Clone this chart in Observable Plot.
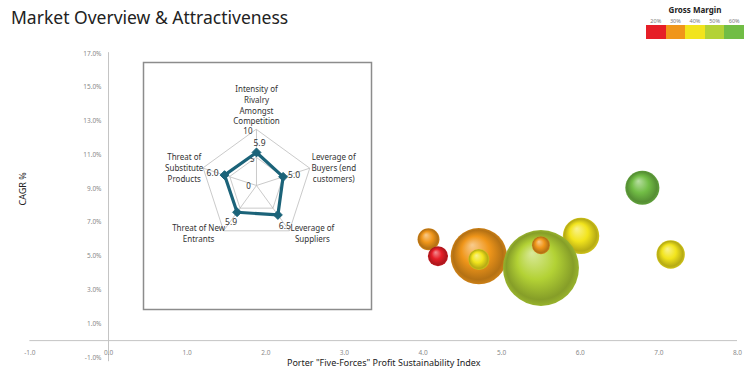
<!DOCTYPE html>
<html>
<head>
<meta charset="utf-8">
<script src="https://cdn.jsdelivr.net/npm/d3@7"></script>
<script src="https://cdn.jsdelivr.net/npm/@observablehq/plot@0.6"></script>
<style>
  body { margin: 0; background: #fff; }
  #wrap { position: relative; width: 750px; height: 381px; overflow: hidden; font-family: "Noto Sans", "Open Sans", sans-serif; }
  #title { position: absolute; left: 11px; top: 5px; font-size: 17.5px; color: #222; white-space: nowrap; }
  #legend { position: absolute; left: 646px; top: 5px; width: 98px; }
  #legend .lt { text-align: center; font-size: 8px; font-weight: bold; color: #222; line-height: 10px; }
  #legend .row { display: flex; }
  #legend .row div { flex: 1; text-align: center; }
  #legend .lab div { font-size: 5.5px; color: #777; height: 10px; line-height: 12px; }
  #legend .sw div { height: 14px; }
  #main { position: absolute; left: 0; top: 0; }
  #inset { position: absolute; left: 143px; top: 62px; }
</style>
</head>
<body>
<svg width="0" height="0" style="position:absolute">
  <defs id="grads"></defs>
</svg>
<div id="wrap">
  <div id="main"></div>
  <div id="inset"></div>
  <div id="title">Market Overview &amp; Attractiveness</div>
  <div id="legend"></div>
</div>
<script>
// ---------- data ----------
const titleText = "Market Overview & Attractiveness";
const xLabel = "Porter \"Five-Forces\" Profit Sustainability Index";
const yLabel = "CAGR %";
const xTicks = [-1, 0, 1, 2, 3, 4, 5, 6, 7, 8];
const yTicks = [-1, 1, 3, 5, 7, 9, 11, 13, 15, 17];

const marginLevels = [20, 30, 40, 50, 60];
const marginLabels = ["20%", "30%", "40%", "50%", "60%"];
const marginColors = ["#e61e27", "#f0961a", "#f2e41c", "#b3d235", "#71bd45"];

// bubbles, in drawing order
const bubbleX      = [4.07, 4.19, 4.71, 4.71, 6.01, 5.50, 5.50, 6.79, 7.15];
const bubbleY      = [6.0, 5.0, 5.0, 4.8, 6.2, 4.3, 5.65, 9.05, 5.1];
const bubbleSize   = [120, 100, 790, 110, 330, 1440, 80, 290, 200];
const bubbleMargin = [30, 20, 30, 40, 40, 50, 30, 60, 40];

// five forces radar
const forces = [
  "Intensity of\nRivalry\nAmongst\nCompetition",
  "Leverage of\nBuyers (end\ncustomers)",
  "Leverage of\nSuppliers",
  "Threat of New\nEntrants",
  "Threat of\nSubstitute\nProducts"
];
const forceValues = [5.9, 5.0, 6.5, 5.9, 6.0];
const radarRings = [5, 10];

// ---------- gradients ----------
const defs = d3.select("#grads");
marginLevels.forEach((m, i) => {
  const base = d3.color(marginColors[i]);
  const light = d3.interpolateRgb(base, "#ffffff")(0.5);
  const dark = d3.interpolateRgb(base, "#000000")(0.25);
  const edge = d3.interpolateRgb(base, "#000000")(0.15);
  const g = defs.append("radialGradient").attr("id", "g" + m)
    .attr("cx", "50%").attr("cy", "50%").attr("r", "50%")
    .attr("fx", "38%").attr("fy", "30%");
  g.append("stop").attr("offset", "0%").attr("stop-color", light);
  g.append("stop").attr("offset", "50%").attr("stop-color", base.formatHex());
  g.append("stop").attr("offset", "88%").attr("stop-color", dark);
  g.append("stop").attr("offset", "100%").attr("stop-color", edge);
});

// ---------- legend ----------
const legend = d3.select("#legend");
legend.append("div").attr("class", "lt").text("Gross Margin");
legend.append("div").attr("class", "row lab").selectAll("div").data(marginLabels).join("div").text(d => d);
legend.append("div").attr("class", "row sw").selectAll("div").data(marginColors).join("div").style("background", d => d);

// ---------- main chart ----------
const bubbles = bubbleX.map((x, i) => ({x, y: bubbleY[i], size: bubbleSize[i], margin: bubbleMargin[i]}));
const font = "Noto Sans, Open Sans, sans-serif";

const main = Plot.plot({
  width: 750, height: 381,
  marginLeft: 29.4, marginRight: 13, marginTop: 53, marginBottom: 24,
  style: {fontFamily: font, background: "transparent"},
  x: {domain: [-1, 8], axis: null},
  y: {domain: [-1, 17], axis: null},
  r: {domain: [0, 1440], range: [0, 38]},
  color: {type: "ordinal", domain: marginLevels, range: marginLevels.map(m => `url(#g${m})`)},
  marks: [
    Plot.ruleY([0], {x1: -1, x2: 8, stroke: "#c4c4c4", strokeWidth: 1}),
    Plot.ruleX([0], {y1: -1.25, y2: 17.05, stroke: "#c4c4c4", strokeWidth: 1}),
    Plot.text(xTicks, {x: d => d, y: 0, dy: 12, text: d => d.toFixed(1), fill: "#8a8a8a", fontSize: 6.5}),
    Plot.text(yTicks, {x: 0, y: d => d, dx: -7, textAnchor: "end", text: d => d.toFixed(1) + "%", fill: "#8a8a8a", fontSize: 6.5}),
    Plot.text([xLabel], {frameAnchor: "bottom", dy: 8, fill: "#222", fontSize: 9}),
    Plot.text([yLabel], {frameAnchor: "left", dx: -7, rotate: -90, fill: "#222", fontSize: 9}),
    Plot.dot(bubbles, {x: "x", y: "y", r: "size", fill: "margin", sort: null})
  ]
});
document.getElementById("main").appendChild(main);

// ---------- radar inset ----------
const ang = i => Math.PI / 2 - i * 2 * Math.PI / 5;
const ringPts = radarRings.map(r => forces.map((f, i) => ({ring: r, x: r * Math.cos(ang(i)), y: r * Math.sin(ang(i))}))).flat();
const spokes = forces.map((f, i) => ({x: 10 * Math.cos(ang(i)), y: 10 * Math.sin(ang(i))}));
const pts = forceValues.map((v, i) => ({v, x: v * Math.cos(ang(i)), y: v * Math.sin(ang(i))}));
const axisLab = forces.map((f, i) => ({f, x: 10 * Math.cos(ang(i)), y: 10 * Math.sin(ang(i))}));

// label offsets (style)
const labFont = 8;
const labLH = 10.8;
const labDx = [0, 24, 23, -25, -19];
const labDy = [-3, 0, 3, 3, 0];
const labAnchor = ["bottom", "middle", "middle", "middle", "middle"];
const valDx = [3, 5, 7, -6, -6];
const valDy = [-9, -2, 11, 10, -2];
const valAnchor = ["middle", "start", "middle", "middle", "end"];

const teal = "#1b6379";
const inset = Plot.plot({
  width: 228, height: 247,
  margin: 0,
  style: {fontFamily: font, background: "#fff", overflow: "visible"},
  x: {domain: [-20.18, 20.54], axis: null},
  y: {domain: [-22.14, 21.96], axis: null},
  marks: [
    Plot.frame({stroke: "#8c8c8c", strokeWidth: 1.5}),
    Plot.line(ringPts, {x: "x", y: "y", z: "ring", curve: "linear-closed", stroke: "#bdbdbd", strokeWidth: 0.8}),
    Plot.link(spokes, {x1: 0, y1: 0, x2: "x", y2: "y", stroke: "#bdbdbd", strokeWidth: 0.8}),
    Plot.text(["0"], {x: 0, y: 0, dx: -8, dy: 1, fill: "#333", fontSize: 8}),
    Plot.text(["10"], {x: 0, y: 10, dx: -4, dy: 2, textAnchor: "end", fill: "#333", fontSize: 8}),
    Plot.text(["5"], {x: 0, y: 5, dx: -2, dy: 2, textAnchor: "end", fill: "#333", fontSize: 8}),
    Plot.line(pts, {x: "x", y: "y", curve: "linear-closed", stroke: teal, strokeWidth: 3.2}),
    Plot.dot(pts, {x: "x", y: "y", symbol: "diamond2", r: 4, fill: teal, stroke: teal, strokeWidth: 1}),
    Plot.text(pts, {x: "x", y: "y", text: d => d.v.toFixed(1), fill: "#333", fontSize: 8.5,
      render(index, scales, values, dims, ctx, next) {
        const g = next(index, scales, values, dims, ctx);
        d3.select(g).selectAll("text").each(function(_, j) {
          const i = index[j];
          d3.select(this).attr("dx", valDx[i]).attr("dy", null)
            .attr("transform", (d3.select(this).attr("transform") || "") + ` translate(0,${valDy[i]})`)
            .attr("text-anchor", valAnchor[i]);
        });
        return g;
      }}),
    Plot.text(axisLab, {x: "x", y: "y", text: "f", fill: "#333", fontSize: labFont,
      render(index, scales, values, dims, ctx, next) {
        const g = next(index, scales, values, dims, ctx);
        d3.select(g).selectAll("text").each(function(_, j) {
          const i = index[j];
          const n = forces[i].split("\n").length;
          let off = labAnchor[i] === "bottom" ? -(n - 1) * labLH - 2 : -(n - 1) * labLH / 2 + 3;
          d3.select(this).attr("transform", (d3.select(this).attr("transform") || "") + ` translate(${labDx[i]},${labDy[i] + off})`);
          d3.select(this).selectAll("tspan").attr("dy", (d, k) => k === 0 ? null : labLH).attr("y", null);
        });
        return g;
      }})
  ]
});
document.getElementById("inset").appendChild(inset);
</script>
</body>
</html>
